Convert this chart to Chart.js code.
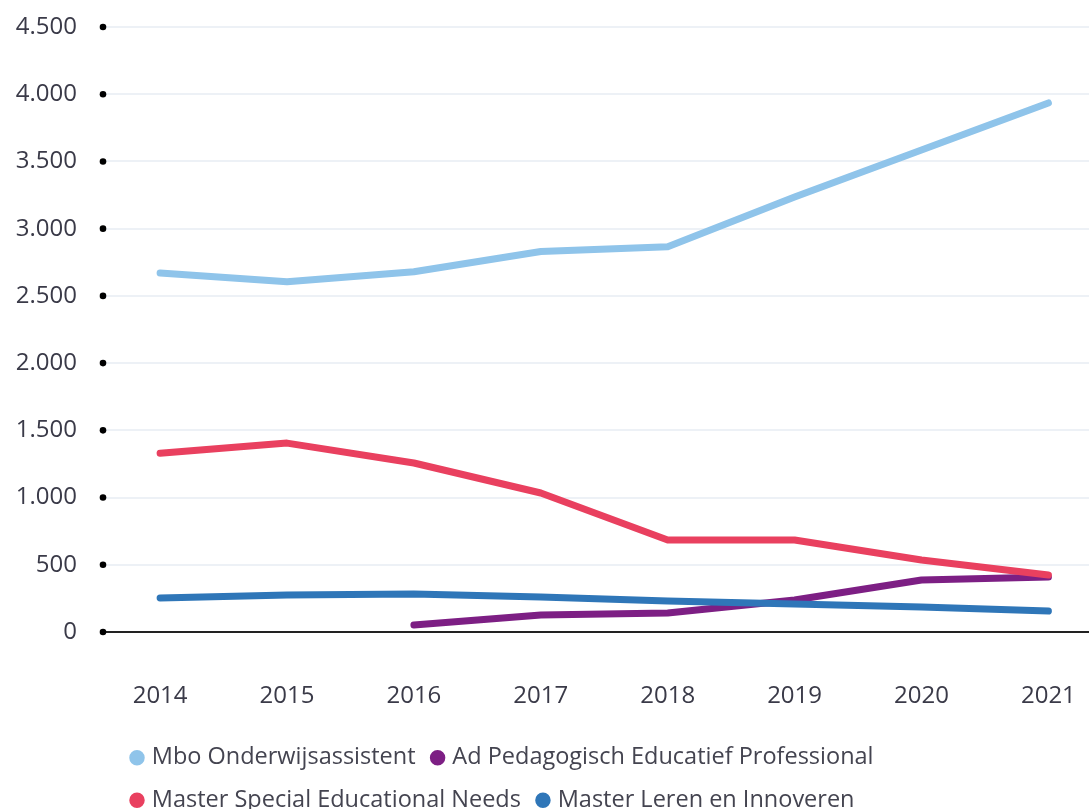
<!DOCTYPE html>
<html>
<head>
<meta charset="utf-8">
<script src="https://cdn.jsdelivr.net/npm/chart.js@4"></script>
<style>
body{margin:0;background:#fff;overflow:hidden}
</style>
</head>
<body>
<canvas id="chart" width="1089" height="809"></canvas>
<script>

const years=[2014,2015,2016,2017,2018,2019,2020,2021]

const mbo=[2670,2605,2680,2830,2865,3235,3585,3935]
const adPed=[null,null,52,126,141,238,387,409]
const masterSEN=[1330,1405,1257,1034,684,684,536,424]
const masterLI=[253,275,283,260,230,208,186,156]

const names=["Mbo Onderwijsassistent","Ad Pedagogisch Educatief Professional","Master Special Educational Needs","Master Leren en Innoveren"]
const colors=["#8fc4ea","#7d1f84","#e9405f","#2f76b8"]

const yTicks=[0,500,1000,1500,2000,2500,3000,3500,4000,4500]

function toPoints(values)
{
let pts=[]
for(let i=0;i<years.length;i++)
{
if(values[i]!==null) pts.push({x:years[i],y:values[i]})
}
return pts
}

function makeSet(i,values,order)
{
return {
label:names[i],
data:toPoints(values),
borderColor:colors[i],
backgroundColor:colors[i],
borderWidth:7,
borderCapStyle:"round",
borderJoinStyle:"round",
pointRadius:0,
tension:0,
order:order
}
}

// black dots at each y tick + shift legend like the original
const tickDots={
id:"tickDots",
afterLayout(chart)
{
chart.legend.left+=115
chart.legend.right+=115
chart.legend.top+=13
chart.legend.bottom+=13
},
afterDraw(chart)
{
const ctx=chart.ctx
const y=chart.scales.y
ctx.save()
ctx.fillStyle="#000"
for(const v of yTicks)
{
ctx.beginPath()
ctx.arc(chart.chartArea.left,y.getPixelForValue(v),3.3,0,Math.PI*2)
ctx.fill()
}
ctx.restore()
}
}

new Chart(document.getElementById("chart"),
{
type:"line",
data:
{
datasets:[
makeSet(0,mbo,0),
makeSet(1,adPed,2),
makeSet(2,masterSEN,0),
makeSet(3,masterLI,1)
]
},
plugins:[tickDots],
options:
{
responsive:false,
animation:false,
locale:"nl-NL",
layout:{padding:{top:27,right:0,left:0,bottom:0}},
plugins:
{
tooltip:{enabled:false},
legend:
{
position:"bottom",
align:"start",
labels:
{
usePointStyle:true,
pointStyle:"circle",
boxWidth:6,
boxHeight:6,
padding:19,
color:"#444450",
font:{family:"Open Sans",size:23.5},
sort:(a,b)=>a.datasetIndex-b.datasetIndex
}
}
},
scales:
{
x:
{
type:"linear",
min:2013.55,
max:2021.32,
afterFit(scale){scale.height=82},
grid:{display:true,drawOnChartArea:false,drawTicks:true,tickLength:50,tickColor:"rgba(0,0,0,0)"},
border:{display:true,color:"#222",width:2},
ticks:
{
stepSize:1,
includeBounds:false,
padding:0,
color:"#3a3a48",
font:{family:"Open Sans",size:24},
callback:(v)=>String(v)
}
},
y:
{
min:0,
max:4500,
afterFit(scale){scale.width=103},
grid:{color:"#edf1f6",lineWidth:2,drawTicks:true,tickLength:26,tickColor:"rgba(0,0,0,0)"},
border:{display:false},
ticks:
{
stepSize:500,
padding:0,
color:"#3a3a48",
font:{family:"Open Sans",size:24}
}
}
}
}
})

</script>
</body>
</html>
